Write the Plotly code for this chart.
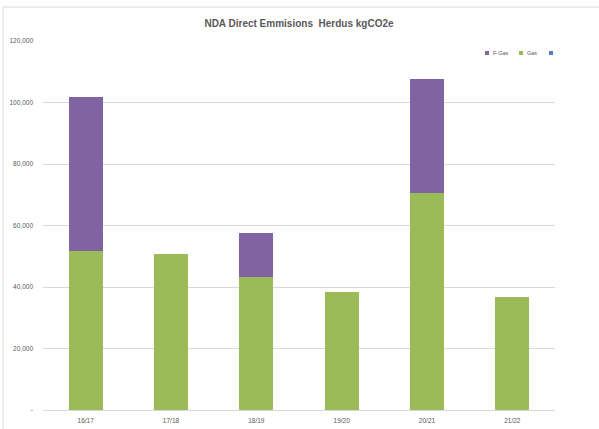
import plotly.graph_objects as go

# Financial years and emissions (kgCO2e)
years = ["16/17", "17/18", "18/19", "19/20", "20/21", "21/22"]
gas = [51700, 50600, 43100, 38300, 70600, 36600]
f_gas = [50200, 0, 14400, 0, 37100, 0]
other = [0, 0, 0, 0, 0, 0]

y_ticks = [0, 20000, 40000, 60000, 80000, 100000, 120000]
y_tick_labels = ["-", "20,000", "40,000", "60,000", "80,000", "100,000", "120,000"]

PURPLE = "#8064A2"
GREEN = "#9BBB59"
BLUE = "#4F81BD"
GRID = "#D9D9D9"
TEXT = "#595959"

W, H = 599, 429
L, R, T, B = 43, 44, 41, 18.5


def px(x):
    """Horizontal pixel position -> paper fraction."""
    return (x - L) / (W - L - R)


def py(y):
    """Vertical pixel position (from top) -> paper fraction."""
    return (H - B - y) / (H - T - B)


fig = go.Figure()
series = [("Gas", gas, GREEN), ("F-Gas", f_gas, PURPLE), (" ", other, BLUE)]
for name, vals, col in series:
    fig.add_trace(go.Bar(x=years, y=vals, name=name, marker_color=col,
                         marker_line_width=0, showlegend=False))

# Outer chart frame
fig.add_shape(type="rect", xref="paper", yref="paper",
              x0=px(3), x1=px(602), y0=py(432), y1=py(7),
              line=dict(color=GRID, width=1), fillcolor="rgba(0,0,0,0)",
              layer="below")

# Compact legend in the top-right corner
legend_items = [("F-Gas", PURPLE, 485), ("Gas", GREEN, 519), ("", BLUE, 549)]
ly = 53
for label, col, x0 in legend_items:
    fig.add_shape(type="rect", xref="paper", yref="paper",
                  x0=px(x0), x1=px(x0 + 4), y0=py(ly + 2), y1=py(ly - 2),
                  line=dict(width=0), fillcolor=col)
    if label:
        fig.add_annotation(text=label, xref="paper", yref="paper",
                           x=px(x0 + 6), y=py(ly), xanchor="left",
                           yanchor="middle", showarrow=False,
                           font=dict(size=5.5, color=TEXT))

fig.update_layout(
    template="none",
    width=W, height=H,
    margin=dict(l=L, r=R, t=T, b=B),
    paper_bgcolor="white", plot_bgcolor="white",
    barmode="stack", bargap=0.6,
    font=dict(family="Liberation Sans, Arial, sans-serif", color=TEXT, size=7),
    title=dict(text="<b>NDA Direct Emmisions&nbsp;&nbsp;Herdus kgCO2e</b>",
               x=0.5, xref="paper", y=1 - 23 / H, yanchor="middle",
               font=dict(size=10, color=TEXT)),
    showlegend=False,
    xaxis=dict(showline=True, linecolor=GRID, linewidth=1, ticks="",
               tickfont=dict(size=6.5, color=TEXT), showgrid=False,
               ticklabelstandoff=4),
    yaxis=dict(range=[0, 120000], tickvals=y_ticks, ticktext=y_tick_labels,
               showgrid=True, gridcolor=GRID, gridwidth=1, zeroline=False,
               showline=False, ticks="", tickfont=dict(size=6.5, color=TEXT),
               ticklabelstandoff=9),
)

fig.write_html("out.html")
